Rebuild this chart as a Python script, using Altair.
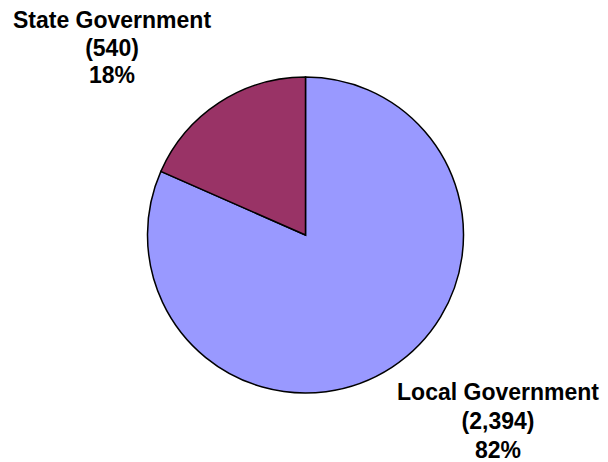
import altair as alt
import pandas as pd

categories = ["Local Government", "State Government"]
counts = [2394, 540]
slice_order = [1, 2]
colors = ["#9999FF", "#993366"]

df = pd.DataFrame({"category": categories, "count": counts, "ord": slice_order})

base = alt.Chart(df).transform_joinaggregate(
    total="sum(count)"
).transform_calculate(
    label="datum.category + '\\n(' + format(datum.count, ',') + ')\\n' + format(datum.count / datum.total, '.0%')"
)

pie = base.mark_arc(stroke="black", strokeWidth=1.5, radius=158).encode(
    theta=alt.Theta("count:Q", stack=True),
    order=alt.Order("ord:Q"),
    color=alt.Color("category:N", scale=alt.Scale(domain=categories, range=colors), legend=None),
    x=alt.value(297.5),
    y=alt.value(227),
)

font = dict(font="Liberation Sans", fontWeight="bold", fontSize=23, color="black",
            align="center", baseline="alphabetic", lineBreak="\n")

state_label = base.transform_filter(alt.datum.category == "State Government").mark_text(
    lineHeight=27.5, **font
).encode(text="label:N", x=alt.value(104), y=alt.value(20))

local_label = base.transform_filter(alt.datum.category == "Local Government").mark_text(
    lineHeight=29, **font
).encode(text="label:N", x=alt.value(490), y=alt.value(392))

chart = alt.layer(pie, state_label, local_label).properties(
    width=592, height=446, padding=0
).configure_view(strokeWidth=0)

chart.save("out.html", embed_options={"renderer": "svg", "actions": False})
